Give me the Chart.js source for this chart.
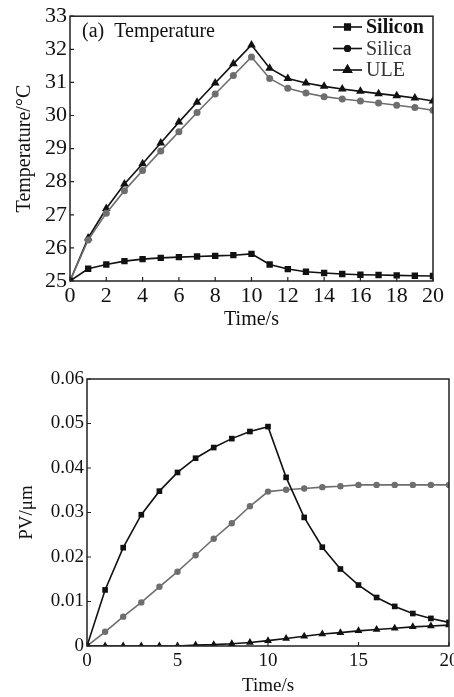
<!DOCTYPE html>
<html>
<head>
<meta charset="utf-8">
<script src="https://cdn.jsdelivr.net/npm/chart.js@4.4.0/dist/chart.umd.min.js"></script>
<style>
  html, body { margin: 0; padding: 0; background: #fff; overflow: hidden; }
  #wrapA { position: absolute; left: 0; top: 0; width: 454px; height: 340px; }
  #wrapB { position: absolute; left: 0; top: 350px; width: 470px; height: 347px; }
</style>
</head>
<body>
<div id="wrapA"><canvas id="chartA"></canvas></div>
<div id="wrapB"><canvas id="chartB"></canvas></div>
<script>
// time axis (s)
const times = [0, 1, 2, 3, 4, 5, 6, 7, 8, 9, 10, 11, 12, 13, 14, 15, 16, 17, 18, 19, 20];

// (a) temperature, degC
const tempSilicon = [25, 25.37, 25.5, 25.6, 25.66, 25.7, 25.72, 25.74, 25.76, 25.78, 25.82,
  25.5, 25.36, 25.28, 25.24, 25.21, 25.19, 25.18, 25.17, 25.16, 25.15];
const tempSilica = [25, 26.24, 27.05, 27.73, 28.34, 28.93, 29.51, 30.09, 30.65, 31.21, 31.77,
  31.12, 30.82, 30.68, 30.57, 30.5, 30.44, 30.38, 30.31, 30.24, 30.16];
const tempULE = [25, 26.3, 27.19, 27.93, 28.54, 29.17, 29.8, 30.4, 30.98, 31.56, 32.13,
  31.43, 31.12, 30.98, 30.88, 30.8, 30.73, 30.66, 30.6, 30.53, 30.44];

// (b) deformation, PV in um
const pvSilicon = [0, 0.0126, 0.0221, 0.0295, 0.0348, 0.039, 0.0422, 0.0446, 0.0466, 0.0482, 0.0493,
  0.0379, 0.0289, 0.0222, 0.0173, 0.0137, 0.0109, 0.0089, 0.0073, 0.0062, 0.0053];
const pvSilica = [0, 0.0032, 0.0066, 0.0098, 0.0133, 0.0167, 0.0204, 0.0241, 0.0276, 0.0314, 0.0347,
  0.0351, 0.0354, 0.0357, 0.0359, 0.0362, 0.0362, 0.0362, 0.0362, 0.0362, 0.0362];
const pvULE = [0, 0, 0, 0, 0, 0, 0.0002, 0.0003, 0.0005, 0.0008, 0.0012,
  0.0017, 0.0022, 0.0027, 0.003, 0.0034, 0.0037, 0.004, 0.0043, 0.0045, 0.0047];

const seriesNames = ['Silicon', 'Silica', 'ULE'];

const SERIF = '"Liberation Serif", "DejaVu Serif", serif';
const DARK = '#111';
const GRAY = '#6e6e6e';

function makeSets(vals, r) {
  return [
    { label: seriesNames[0], data: vals[0], borderColor: DARK, backgroundColor: DARK,
      pointStyle: 'rect', pointRadius: r[0], borderWidth: 1.6 },
    { label: seriesNames[1], data: vals[1], borderColor: GRAY, backgroundColor: GRAY,
      pointStyle: 'circle', pointRadius: r[1], borderWidth: 1.6 },
    { label: seriesNames[2], data: vals[2], borderColor: DARK, backgroundColor: DARK,
      pointStyle: 'triangle', pointRadius: r[2], borderWidth: 1.6 }
  ].map(d => Object.assign(d, { pointBorderWidth: 0, tension: 0, fill: false }));
}

// frame, inward ticks, panel title and legend
const decor = {
  id: 'decor',
  afterDraw(chart, args, o) {
    const ctx = chart.ctx;
    const a = chart.chartArea;
    const xs = chart.scales.x, ys = chart.scales.y;
    ctx.save();
    ctx.strokeStyle = '#222';
    ctx.lineWidth = 1.5;
    ctx.strokeRect(a.left, a.top, a.right - a.left, a.bottom - a.top);
    ctx.lineWidth = 1.2;
    ctx.beginPath();
    xs.ticks.forEach(t => {
      const px = xs.getPixelForValue(t.value);
      ctx.moveTo(px, a.bottom); ctx.lineTo(px, a.bottom - 4);
    });
    ys.ticks.forEach(t => {
      const py = ys.getPixelForValue(t.value);
      ctx.moveTo(a.left, py); ctx.lineTo(a.left + 4, py);
    });
    ctx.stroke();

    ctx.fillStyle = '#111';
    ctx.font = o.titleSize + 'px ' + SERIF;
    ctx.textBaseline = 'alphabetic';
    ctx.textAlign = 'left';
    ctx.fillText(o.title, o.titleX, o.titleY);

    chart.data.datasets.forEach((ds, i) => {
      const y = o.legY + i * o.legGap;
      ctx.strokeStyle = DARK;
      ctx.fillStyle = DARK;
      ctx.lineWidth = 1.6;
      ctx.beginPath();
      ctx.moveTo(o.legX, y); ctx.lineTo(o.legX + o.legLen, y);
      ctx.stroke();
      Chart.helpers.drawPoint(ctx, { pointStyle: ds.pointStyle, radius: o.legR[i], rotation: 0, borderWidth: 0 },
        o.legX + o.legLen / 2, y);
      ctx.fill();
      ctx.font = (i === 0 ? 'bold ' : '') + o.legSize + 'px ' + SERIF;
      ctx.fillStyle = i === 0 ? '#111' : '#333';
      ctx.textBaseline = 'middle';
      ctx.fillText(ds.label, o.legX + o.legLen + 4, y + 1);
    });
    ctx.restore();
  }
};

function makeOptions(cfg) {
  return {
    responsive: true,
    maintainAspectRatio: false,
    animation: false,
    layout: { padding: cfg.pad },
    plugins: {
      legend: { display: false },
      tooltip: { enabled: false },
      decor: cfg.decor
    },
    scales: {
      x: {
        type: 'linear', min: 0, max: 20,
        grid: { display: false, drawTicks: false },
        border: { display: false },
        ticks: { stepSize: cfg.xStep, color: '#111', padding: cfg.xTickPad,
          font: { family: SERIF, size: cfg.tickSize } },
        title: { display: true, text: 'Time/s', color: '#111',
          font: { family: SERIF, size: cfg.titleSize }, padding: { top: 0, bottom: cfg.xTitlePad } },
        afterFit(s) { s.height = cfg.xH; }
      },
      y: {
        min: cfg.yMin, max: cfg.yMax,
        grid: { display: false, drawTicks: false },
        border: { display: false },
        ticks: { stepSize: cfg.yStep, color: '#111', padding: 3,
          font: { family: SERIF, size: cfg.tickSize }, callback: cfg.yFmt },
        title: { display: true, text: cfg.yTitle, color: '#111',
          font: { family: SERIF, size: cfg.titleSize }, padding: { top: cfg.yTitlePad, bottom: 0 } },
        afterFit(s) { s.width = cfg.yW; }
      }
    }
  };
}

new Chart(document.getElementById('chartA'), {
  type: 'line',
  data: { labels: times, datasets: makeSets([tempSilicon, tempSilica, tempULE], [4.5, 3.5, 5]) },
  options: makeOptions({
    pad: { top: 12, right: 21, left: 0, bottom: 0 },
    xStep: 2, yMin: 25, yMax: 33, yStep: 1,
    tickSize: 22, titleSize: 20, xTickPad: 2, xTitlePad: 8, xH: 59, yW: 70,
    yTitle: 'Temperature/°C', yTitlePad: 13,
    yFmt: v => v,
    decor: { title: '(a)  Temperature', titleX: 82, titleY: 37, titleSize: 20,
      legX: 333, legY: 27, legGap: 21.5, legLen: 29, legSize: 20, legR: [5, 3.5, 6] }
  }),
  plugins: [decor]
});

new Chart(document.getElementById('chartB'), {
  type: 'line',
  data: { labels: times, datasets: makeSets([pvSilicon, pvSilica, pvULE], [4, 3.2, 4.5]) },
  options: makeOptions({
    pad: { top: 29, right: 21, left: 0, bottom: 0 },
    xStep: 5, yMin: 0, yMax: 0.06, yStep: 0.01,
    tickSize: 19, titleSize: 19, xTickPad: 4, xTitlePad: 0, xH: 51, yW: 87,
    yTitle: 'PV/μm', yTitlePad: 16,
    yFmt: v => v === 0 ? '0' : v.toFixed(2),
    decor: { title: '(b)  Deformation', titleX: 97, titleY: 402, titleSize: 19,
      legX: 344, legY: 400, legGap: 20.5, legLen: 28, legSize: 20, legR: [4.5, 3.5, 5.5] }
  }),
  plugins: [decor]
});
</script>
</body>
</html>
